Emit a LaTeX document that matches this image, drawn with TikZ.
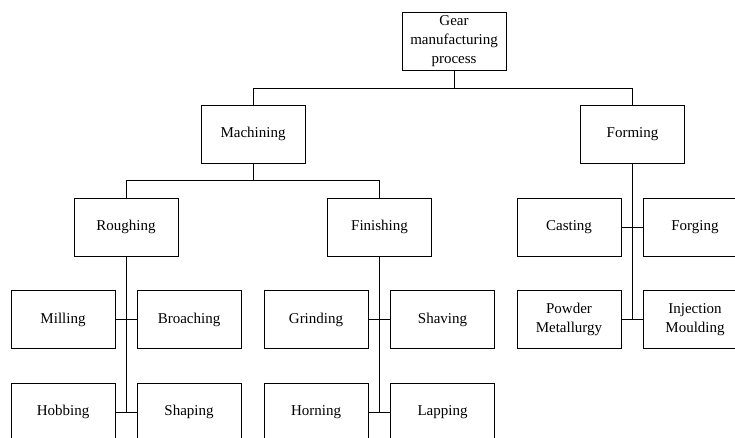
\documentclass[tikz,border=0pt]{standalone}
\usepackage{fontspec}
\setmainfont{Liberation Serif}
\begin{document}
\begin{tikzpicture}[x=1pt,y=-1pt,
  box/.style={draw, line width=0.8pt, minimum width=104pt, minimum height=58pt, inner sep=0pt, align=center, font=\fontsize{15}{19}\selectfont},
  conn/.style={line width=0.8pt}]
\useasboundingbox (0,0) rectangle (735,437);
\clip (0,0) rectangle (735,437);
\node[box] (gear) at (454,41) {Gear\\manufacturing\\process};
\node[box] (mach) at (253,134) {Machining};
\node[box] (form) at (632.5,134) {Forming};
\node[box] (rough) at (126,227) {Roughing};
\node[box] (fin) at (379.5,227) {Finishing};
\node[box] (cast) at (569,227) {Casting};
\node[box] (forg) at (695,227) {Forging};
\node[box] (mill) at (63,319.5) {Milling};
\node[box] (broach) at (189,319.5) {Broaching};
\node[box] (grind) at (316,319.5) {Grinding};
\node[box] (shave) at (442.5,319.5) {Shaving};
\node[box] (powder) at (569,319.5) {Powder\\Metallurgy};
\node[box] (inject) at (695,319.5) {Injection\\Moulding};
\node[box] (hob) at (63,412) {Hobbing};
\node[box] (shape) at (189,412) {Shaping};
\node[box] (horn) at (316,412) {Horning};
\node[box] (lap) at (442.5,412) {Lapping};
% level 1
\coordinate (j1) at (454,88);
\draw[conn] (gear.south) -- (j1);
\draw[conn] (mach.north) -- (mach.north |- j1) -- (form.north |- j1) -- (form.north);
% level 2
\coordinate (j2) at (253,180);
\draw[conn] (mach.south) -- (j2);
\draw[conn] (rough.north) -- (rough.north |- j2) -- (fin.north |- j2) -- (fin.north);
% roughing
\coordinate (r1) at (126,319.5);
\coordinate (r2) at (126,412);
\draw[conn] (rough.south) -- (r2);
\draw[conn] (mill.east) -- (broach.west);
\draw[conn] (hob.east) -- (shape.west);
% finishing
\coordinate (f2) at (379.5,412);
\draw[conn] (fin.south) -- (f2);
\draw[conn] (grind.east) -- (shave.west);
\draw[conn] (horn.east) -- (lap.west);
% forming
\coordinate (m2) at (632.5,319.5);
\draw[conn] (form.south) -- (m2);
\draw[conn] (cast.east) -- (forg.west);
\draw[conn] (powder.east) -- (inject.west);
\end{tikzpicture}
\end{document}
